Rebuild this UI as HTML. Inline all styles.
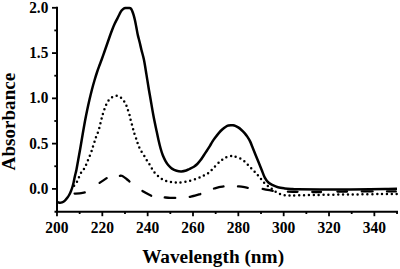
<!DOCTYPE html>
<html><head><meta charset="utf-8"><style>
html,body{margin:0;padding:0;background:#fff;}
body{width:400px;height:269px;overflow:hidden;}
svg{display:block;}
text{font-family:"Liberation Serif",serif;font-weight:bold;fill:#000;}
</style></head><body>
<svg width="400" height="269" viewBox="0 0 400 269">
<rect width="400" height="269" fill="#fff"/>
<g stroke="#000" stroke-width="2" fill="none" stroke-linecap="butt">
<line x1="57" y1="6.7" x2="57" y2="212.8"/>
<line x1="54.5" y1="211.8" x2="398" y2="211.8"/>
</g>
<g stroke="#000" stroke-width="1.8" fill="none">
<line x1="52" y1="188.90" x2="57" y2="188.90"/><line x1="52" y1="143.62" x2="57" y2="143.62"/><line x1="52" y1="98.35" x2="57" y2="98.35"/><line x1="52" y1="53.08" x2="57" y2="53.08"/><line x1="52" y1="7.80" x2="57" y2="7.80"/><line x1="54.3" y1="166.26" x2="57" y2="166.26"/><line x1="54.3" y1="120.99" x2="57" y2="120.99"/><line x1="54.3" y1="75.71" x2="57" y2="75.71"/><line x1="54.3" y1="30.44" x2="57" y2="30.44"/><line x1="56.98" y1="211.8" x2="56.98" y2="216.2"/><line x1="79.65" y1="211.8" x2="79.65" y2="214"/><line x1="102.32" y1="211.8" x2="102.32" y2="216.2"/><line x1="124.99" y1="211.8" x2="124.99" y2="214"/><line x1="147.66" y1="211.8" x2="147.66" y2="216.2"/><line x1="170.33" y1="211.8" x2="170.33" y2="214"/><line x1="193.00" y1="211.8" x2="193.00" y2="216.2"/><line x1="215.67" y1="211.8" x2="215.67" y2="214"/><line x1="238.34" y1="211.8" x2="238.34" y2="216.2"/><line x1="261.01" y1="211.8" x2="261.01" y2="214"/><line x1="283.68" y1="211.8" x2="283.68" y2="216.2"/><line x1="306.35" y1="211.8" x2="306.35" y2="214"/><line x1="329.02" y1="211.8" x2="329.02" y2="216.2"/><line x1="351.69" y1="211.8" x2="351.69" y2="214"/><line x1="374.36" y1="211.8" x2="374.36" y2="216.2"/><line x1="397.03" y1="211.8" x2="397.03" y2="214"/>
</g>
<g fill="none" stroke="#000" stroke-linejoin="round">
<path d="M56.75,202.00 C57.21,202.12 58.62,202.63 59.50,202.70 C60.38,202.77 61.10,202.75 62.00,202.40 C62.90,202.05 64.02,201.37 64.90,200.60 C65.78,199.83 66.55,198.82 67.30,197.80 C68.05,196.78 68.78,195.63 69.40,194.50 C70.02,193.37 70.50,192.25 71.00,191.00 C71.50,189.75 71.97,188.42 72.40,187.00 C72.83,185.58 73.25,184.00 73.60,182.50 C73.95,181.00 74.22,179.33 74.50,178.00 C74.78,176.67 74.98,175.83 75.30,174.50 C75.62,173.17 75.92,172.42 76.40,170.00 C76.88,167.58 77.60,163.33 78.20,160.00 C78.80,156.67 79.42,153.33 80.00,150.00 C80.58,146.67 81.13,143.33 81.70,140.00 C82.27,136.67 82.82,133.33 83.40,130.00 C83.98,126.67 84.57,123.33 85.20,120.00 C85.83,116.67 86.50,113.33 87.20,110.00 C87.90,106.67 88.62,103.38 89.40,100.00 C90.18,96.62 91.03,93.03 91.90,89.70 C92.77,86.37 93.73,82.95 94.60,80.00 C95.47,77.05 96.30,74.42 97.10,72.00 C97.90,69.58 98.67,67.50 99.40,65.50 C100.13,63.50 100.65,62.33 101.50,60.00 C102.35,57.67 103.53,54.25 104.50,51.50 C105.47,48.75 106.40,46.08 107.30,43.50 C108.20,40.92 109.07,38.33 109.90,36.00 C110.73,33.67 111.48,31.57 112.30,29.50 C113.12,27.43 113.97,25.42 114.80,23.60 C115.63,21.78 116.50,20.20 117.30,18.60 C118.10,17.00 118.88,15.33 119.60,14.00 C120.32,12.67 120.95,11.48 121.60,10.60 C122.25,9.72 122.85,9.13 123.50,8.70 C124.15,8.27 124.58,8.12 125.50,8.00 C126.42,7.88 128.12,7.92 129.00,8.00 C129.88,8.08 130.28,8.05 130.80,8.50 C131.32,8.95 131.65,9.68 132.10,10.70 C132.55,11.72 133.03,13.05 133.50,14.60 C133.97,16.15 134.43,17.93 134.90,20.00 C135.37,22.07 135.83,24.58 136.30,27.00 C136.77,29.42 137.15,32.00 137.70,34.50 C138.25,37.00 138.98,39.47 139.60,42.00 C140.22,44.53 140.67,46.70 141.40,49.70 C142.13,52.70 143.15,55.80 144.00,60.00 C144.85,64.20 145.68,69.95 146.50,74.90 C147.32,79.85 148.20,85.52 148.90,89.70 C149.60,93.88 149.97,95.80 150.70,100.00 C151.43,104.20 152.37,109.95 153.30,114.90 C154.23,119.85 155.43,125.52 156.30,129.70 C157.17,133.88 157.78,136.87 158.50,140.00 C159.22,143.13 159.88,145.95 160.60,148.50 C161.32,151.05 162.00,153.25 162.80,155.30 C163.60,157.35 164.47,159.13 165.40,160.80 C166.33,162.47 167.32,164.00 168.40,165.30 C169.48,166.60 170.53,167.68 171.90,168.60 C173.27,169.52 175.00,170.33 176.60,170.80 C178.20,171.27 179.90,171.45 181.50,171.40 C183.10,171.35 184.87,170.90 186.20,170.50 C187.53,170.10 188.22,169.63 189.50,169.00 C190.78,168.37 192.60,167.53 193.90,166.70 C195.20,165.87 196.18,165.10 197.30,164.00 C198.42,162.90 199.48,161.60 200.60,160.10 C201.72,158.60 202.88,156.68 204.00,155.00 C205.12,153.32 206.28,151.57 207.30,150.00 C208.32,148.43 209.25,147.00 210.10,145.60 C210.95,144.20 211.60,142.87 212.40,141.60 C213.20,140.33 213.84,139.42 214.90,138.00 C215.96,136.58 217.48,134.55 218.75,133.10 C220.02,131.65 221.26,130.40 222.50,129.30 C223.74,128.20 225.18,127.13 226.20,126.50 C227.22,125.87 227.83,125.72 228.60,125.50 C229.37,125.28 230.07,125.23 230.80,125.20 C231.53,125.17 232.25,125.18 233.00,125.30 C233.75,125.42 234.43,125.55 235.30,125.90 C236.17,126.25 237.22,126.77 238.20,127.40 C239.18,128.03 240.13,128.75 241.20,129.70 C242.27,130.65 243.58,131.95 244.60,133.10 C245.62,134.25 246.38,135.22 247.30,136.60 C248.22,137.98 249.17,139.45 250.10,141.40 C251.03,143.35 251.97,146.00 252.90,148.30 C253.83,150.60 254.75,152.87 255.70,155.20 C256.65,157.53 257.62,159.88 258.60,162.30 C259.58,164.72 260.57,167.15 261.60,169.70 C262.63,172.25 263.67,175.47 264.80,177.60 C265.93,179.73 267.07,181.23 268.40,182.50 C269.73,183.77 271.20,184.40 272.80,185.20 C274.40,186.00 276.02,186.77 278.00,187.30 C279.98,187.83 282.53,188.12 284.70,188.40 C286.87,188.68 288.78,188.85 291.00,189.00 C293.22,189.15 293.17,189.23 298.00,189.30 C302.83,189.37 311.33,189.38 320.00,189.40 C328.67,189.42 341.67,189.42 350.00,189.40 C358.33,189.38 364.17,189.37 370.00,189.30 C375.83,189.23 380.50,189.10 385.00,189.00 C389.50,188.90 395.00,188.75 397.00,188.70" stroke-width="2.5"/>
<path d="M73.60,186.50 C73.87,186.13 74.67,185.03 75.20,184.30 C75.73,183.57 76.27,183.07 76.80,182.10 C77.33,181.13 77.83,179.77 78.40,178.50 C78.97,177.23 79.60,175.75 80.20,174.50 C80.80,173.25 81.35,171.95 82.00,171.00 C82.65,170.05 83.45,169.77 84.10,168.80 C84.75,167.83 85.28,166.58 85.90,165.20 C86.52,163.82 87.15,162.08 87.80,160.50 C88.45,158.92 89.17,157.27 89.80,155.70 C90.43,154.13 91.07,152.65 91.60,151.10 C92.13,149.55 92.52,147.93 93.00,146.40 C93.48,144.87 94.00,143.45 94.50,141.90 C95.00,140.35 95.45,138.63 96.00,137.10 C96.55,135.57 97.27,134.15 97.80,132.70 C98.33,131.25 98.77,129.93 99.20,128.40 C99.63,126.87 100.00,125.12 100.40,123.50 C100.80,121.88 101.18,120.32 101.60,118.70 C102.02,117.08 102.43,115.37 102.90,113.80 C103.37,112.23 103.87,110.78 104.40,109.30 C104.93,107.82 105.40,106.38 106.10,104.90 C106.80,103.42 107.57,101.72 108.60,100.40 C109.63,99.08 110.93,97.78 112.30,97.00 C113.67,96.22 115.32,95.55 116.80,95.70 C118.28,95.85 119.92,96.87 121.20,97.90 C122.48,98.93 123.63,100.62 124.50,101.90 C125.37,103.18 125.83,104.23 126.40,105.60 C126.97,106.97 127.40,108.62 127.90,110.10 C128.40,111.58 128.97,112.95 129.40,114.50 C129.83,116.05 130.10,117.82 130.50,119.40 C130.90,120.98 131.37,122.40 131.80,124.00 C132.23,125.60 132.67,127.38 133.10,129.00 C133.53,130.62 133.88,132.08 134.40,133.70 C134.92,135.32 135.67,137.13 136.20,138.70 C136.73,140.27 137.07,141.58 137.60,143.10 C138.13,144.62 138.70,146.28 139.40,147.80 C140.10,149.32 140.95,150.80 141.80,152.20 C142.65,153.60 143.62,154.78 144.50,156.20 C145.38,157.62 146.23,159.30 147.10,160.70 C147.97,162.10 148.85,163.22 149.70,164.60 C150.55,165.98 151.33,167.60 152.20,169.00 C153.07,170.40 153.92,171.83 154.90,173.00 C155.88,174.17 156.92,175.00 158.10,176.00 C159.28,177.00 160.68,178.18 162.00,179.00 C163.32,179.82 164.58,180.40 166.00,180.90 C167.42,181.40 169.02,181.75 170.50,182.00 C171.98,182.25 173.48,182.28 174.90,182.40 C176.32,182.52 177.28,182.80 179.00,182.70 C180.72,182.60 183.07,182.22 185.20,181.80 C187.33,181.38 189.58,180.83 191.80,180.20 C194.02,179.57 196.57,178.75 198.50,178.00 C200.43,177.25 201.88,176.43 203.40,175.70 C204.92,174.97 206.27,174.52 207.60,173.60 C208.93,172.68 209.95,171.63 211.40,170.20 C212.85,168.77 214.62,166.67 216.30,165.00 C217.98,163.33 219.95,161.45 221.50,160.20 C223.05,158.95 224.18,158.18 225.60,157.50 C227.02,156.82 228.85,156.35 230.00,156.10 C231.15,155.85 231.68,155.92 232.50,156.00 C233.32,156.08 233.72,156.23 234.90,156.60 C236.08,156.97 238.10,157.48 239.60,158.20 C241.10,158.92 242.53,159.82 243.90,160.90 C245.27,161.98 246.58,163.48 247.80,164.70 C249.02,165.92 250.07,167.05 251.20,168.20 C252.33,169.35 253.50,170.43 254.60,171.60 C255.70,172.77 256.72,173.95 257.80,175.20 C258.88,176.45 260.03,177.83 261.10,179.10 C262.17,180.37 263.03,181.63 264.20,182.80 C265.37,183.97 266.85,185.10 268.10,186.10 C269.35,187.10 270.42,187.85 271.70,188.80 C272.98,189.75 274.37,190.93 275.80,191.80 C277.23,192.67 278.82,193.43 280.30,194.00 C281.78,194.57 283.17,194.93 284.70,195.20 C286.23,195.47 287.62,195.55 289.50,195.60 C291.38,195.65 293.42,195.58 296.00,195.50 C298.58,195.42 301.33,195.20 305.00,195.10 C308.67,195.00 311.67,195.00 318.00,194.90 C324.33,194.80 336.33,194.58 343.00,194.50 C349.67,194.42 351.83,194.48 358.00,194.40 C364.17,194.32 373.50,194.08 380.00,194.00 C386.50,193.92 394.17,193.92 397.00,193.90" stroke-width="2.5" stroke-linecap="round" stroke-dasharray="0 4.867" stroke-dashoffset="3.85"/>
<g stroke-width="2.3" stroke-linecap="round">
<path d="M74.60,193.57 C75.42,193.54 77.81,193.58 79.50,193.40 C81.19,193.22 83.89,192.63 84.77,192.47"/>
<path d="M99.59,182.85 C100.15,182.47 101.82,181.38 103.00,180.60 C104.18,179.82 106.06,178.56 106.67,178.15"/>
<path d="M119.90,175.79 C120.31,175.82 121.30,175.46 122.40,176.00 C123.50,176.54 125.32,178.07 126.50,179.00 C127.68,179.93 128.99,181.13 129.49,181.55"/>
<path d="M142.46,190.91 C143.22,191.36 145.54,192.79 147.00,193.60 C148.46,194.41 150.51,195.39 151.21,195.75"/>
<path d="M164.75,197.46 C165.62,197.52 168.25,197.73 170.00,197.80 C171.75,197.87 174.38,197.87 175.25,197.88"/>
<path d="M189.73,196.80 C190.61,196.61 193.24,196.16 195.00,195.70 C196.76,195.24 199.41,194.32 200.30,194.05"/>
<path d="M213.97,188.50 C214.81,188.28 217.41,187.55 219.00,187.20 C220.59,186.85 222.76,186.55 223.51,186.42"/>
<path d="M237.99,186.36 C238.83,186.45 241.37,186.66 243.00,186.90 C244.63,187.14 246.97,187.66 247.77,187.81"/>
<path d="M262.68,188.98 C263.52,189.13 266.03,189.59 267.70,189.90 C269.37,190.21 271.88,190.67 272.72,190.82"/>
<path d="M287.90,191.71 C289.50,191.72 295.90,191.78 297.50,191.79"/>
<path d="M312.30,192.00 C313.75,192.00 319.55,192.00 321.00,192.00"/>
<path d="M337.40,191.59 C339.00,191.58 345.40,191.52 347.00,191.51"/>
<path d="M361.80,191.40 C363.60,191.40 370.80,191.40 372.60,191.40"/>
<path d="M387.00,191.40 C388.47,191.40 394.33,191.40 395.80,191.40"/>
</g>
</g>
<g font-size="16">
<text transform="translate(56.98,232.6) scale(0.97,1)" text-anchor="middle">200</text><text transform="translate(102.32,232.6) scale(0.97,1)" text-anchor="middle">220</text><text transform="translate(147.66,232.6) scale(0.97,1)" text-anchor="middle">240</text><text transform="translate(193.00,232.6) scale(0.97,1)" text-anchor="middle">260</text><text transform="translate(238.34,232.6) scale(0.97,1)" text-anchor="middle">280</text><text transform="translate(283.68,232.6) scale(0.97,1)" text-anchor="middle">300</text><text transform="translate(329.02,232.6) scale(0.97,1)" text-anchor="middle">320</text><text transform="translate(374.36,232.6) scale(0.97,1)" text-anchor="middle">340</text><text transform="translate(48.3,193.90) scale(0.955,1)" text-anchor="end">0.0</text><text transform="translate(48.3,148.62) scale(0.955,1)" text-anchor="end">0.5</text><text transform="translate(48.3,103.35) scale(0.955,1)" text-anchor="end">1.0</text><text transform="translate(48.3,58.08) scale(0.955,1)" text-anchor="end">1.5</text><text transform="translate(48.3,12.80) scale(0.955,1)" text-anchor="end">2.0</text>
</g>
<text x="213.1" y="263.3" font-size="19.3" text-anchor="middle">Wavelength (nm)</text>
<text transform="translate(15,121.6) rotate(-90)" font-size="19.1" text-anchor="middle">Absorbance</text>
</svg>
</body></html>
